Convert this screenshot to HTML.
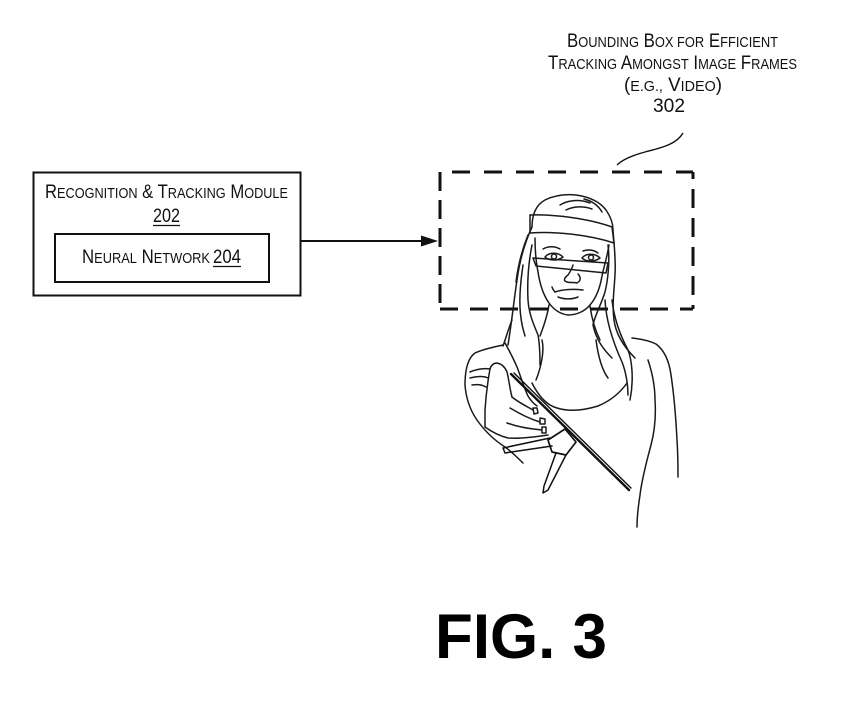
<!DOCTYPE html>
<html>
<head>
<meta charset="utf-8">
<style>
  html, body { margin:0; padding:0; background:#fff; }
  body { width:850px; height:706px; overflow:hidden; }
  svg { display:block; }
  text { font-family: "Liberation Sans", Arial, sans-serif; fill:#111; }
</style>
</head>
<body>
<svg width="850" height="706" viewBox="0 0 850 706" xmlns="http://www.w3.org/2000/svg">
  <!-- Module box -->
  <rect x="33.5" y="172.5" width="267" height="123" fill="none" stroke="#111" stroke-width="2"/>
  <text x="45" y="198" textLength="243" lengthAdjust="spacingAndGlyphs"><tspan font-size="19">R</tspan><tspan font-size="14.5">ECOGNITION</tspan><tspan font-size="19"> &amp; T</tspan><tspan font-size="14.5">RACKING</tspan><tspan font-size="19"> M</tspan><tspan font-size="14.5">ODULE</tspan></text>
  <text x="153" y="222" font-size="19" textLength="27" lengthAdjust="spacingAndGlyphs">202</text>
  <line x1="153" y1="225.5" x2="180" y2="225.5" stroke="#111" stroke-width="1.3"/>

  <rect x="55" y="234" width="214" height="48" fill="none" stroke="#111" stroke-width="2"/>
  <text x="82" y="263" textLength="128" lengthAdjust="spacingAndGlyphs"><tspan font-size="19">N</tspan><tspan font-size="14.5">EURAL</tspan><tspan font-size="19"> N</tspan><tspan font-size="14.5">ETWORK</tspan></text>
  <text x="213" y="263" font-size="19" textLength="28" lengthAdjust="spacingAndGlyphs">204</text>
  <line x1="213" y1="266.5" x2="241" y2="266.5" stroke="#111" stroke-width="1.3"/>

  <!-- Arrow -->
  <line x1="300" y1="241" x2="422" y2="241" stroke="#111" stroke-width="2"/>
  <polygon points="421,235.5 438,241 421,246.5" fill="#111"/>

  <!-- Dashed bounding box -->
  <g stroke="#111" stroke-width="3" fill="none">
    <path d="M452,172 H693" stroke-dasharray="18 14"/>
    <path d="M693,172 V309" stroke-dasharray="19 10" stroke-dashoffset="12"/>
    <path d="M440,172 V309" stroke-dasharray="19 9"/>
    <path d="M440,309 H693" stroke-dasharray="18 12"/>
  </g>

  <!-- Top label -->
  <text x="567" y="47" textLength="211" lengthAdjust="spacingAndGlyphs"><tspan font-size="19">B</tspan><tspan font-size="14.5">OUNDING</tspan><tspan font-size="19"> B</tspan><tspan font-size="14.5">OX FOR</tspan><tspan font-size="19"> E</tspan><tspan font-size="14.5">FFICIENT</tspan></text>
  <text x="548" y="69" textLength="249" lengthAdjust="spacingAndGlyphs"><tspan font-size="19">T</tspan><tspan font-size="14.5">RACKING</tspan><tspan font-size="19"> A</tspan><tspan font-size="14.5">MONGST</tspan><tspan font-size="19"> I</tspan><tspan font-size="14.5">MAGE</tspan><tspan font-size="19"> F</tspan><tspan font-size="14.5">RAMES</tspan></text>
  <text x="624" y="91" textLength="98" lengthAdjust="spacingAndGlyphs"><tspan font-size="19">(</tspan><tspan font-size="14.5">E.G.,</tspan><tspan font-size="19"> V</tspan><tspan font-size="14.5">IDEO</tspan><tspan font-size="19">)</tspan></text>
  <text x="653" y="112" font-size="19" textLength="32" lengthAdjust="spacingAndGlyphs">302</text>
  <path d="M683,133 C676,145 660,148 645,152 C630,156 622,160 617,165" fill="none" stroke="#111" stroke-width="1.4"/>

  <!-- Person drawing -->
  <g fill="none" stroke="#1a1a1a" stroke-width="1.5" stroke-linecap="round" stroke-linejoin="round">
    <!-- head top -->
    <path d="M532,227 C532,215 536,205 545,200 C555,195 566,194 576,195 C590,197 600,202 606,210 C611,217 613,224 613,230"/>
    <path d="M560,205 C568,200 580,199 590,203"/>
    <path d="M566,210 C574,206 584,206 592,209"/>
    <path d="M584,199 C592,201 598,205 602,212"/>
    <!-- headband -->
    <path d="M530,215 C555,214 590,219 612,227"/>
    <path d="M530,233 C555,231 590,235 614,243"/>
    <path d="M530,215 L530,233"/>
    <path d="M612,227 L614,243"/>
    <!-- face outline -->
    <path d="M535,238 C535,250 536,262 538,272 C540,285 544,296 549,303 C554,310 560,314 568,315 C577,315 585,311 590,305 C596,298 600,288 602,276 C604,266 607,258 609,245"/>
    <!-- glasses -->
    <path d="M533,258 L608,263 L606,273 L536,266 Z"/>
    <!-- eyebrows -->
    <path d="M543,249 C548,246 555,246 560,249"/>
    <path d="M583,251 C588,249 594,250 598,253"/>
    <!-- eyes -->
    <path d="M545,257 C549,252 558,252 563,257 C558,261 549,261 545,257 Z"/>
    <circle cx="554" cy="256.5" r="2.5"/>
    <path d="M582,258 C586,253 595,253 600,258 C595,262 586,262 582,258 Z"/>
    <circle cx="591" cy="257.5" r="2.5"/>
    <!-- nose -->
    <path d="M573,265 C572,269 570,272 568,275 C564,278 563,281 567,282 C570,283 574,282 577,283 C581,281 581,277 578,274"/>
    <!-- mouth -->
    <path d="M555,292 C563,289 575,289 583,290"/>
    <path d="M558,297 C566,300 573,299 578,297"/>
    <path d="M552,287 C553,290 554,291 555,292"/>
    <!-- hair left -->
    <path d="M532,227 C526,240 520,258 517,280 C514,300 512,320 508,345"/>
    <path d="M532,245 C529,260 527,280 528,300 C529,315 534,325 538,335 C540,345 540,355 540,365"/>
    <path d="M523,265 C520,285 519,305 521,318 C522,327 524,332 525,336"/>
    <path d="M528,235 C522,250 518,265 516,282"/>
    <path d="M512,320 C508,330 506,338 503,346"/>
    <!-- hair right -->
    <path d="M613,230 C614,245 616,258 615,275 C614,292 612,305 614,320 C616,335 625,348 635,358"/>
    <path d="M608,245 C610,260 608,280 605,292 C601,305 595,315 593,325 C596,340 604,350 612,358"/>
    <path d="M612,300 C614,318 620,335 628,350 C632,360 634,380 630,400"/>
    <path d="M605,300 C606,320 612,340 622,362 C626,372 628,385 628,395"/>
    <!-- neck -->
    <path d="M549,305 C547,318 543,328 540,336"/>
    <path d="M590,306 C592,320 595,330 600,340"/>
    <!-- left shoulder & arm -->
    <path d="M503,345 C494,347 483,349 475,353 C468,358 465,370 465,385 C466,398 470,410 477,420 C484,430 494,440 505,447 C512,452 518,458 523,463"/>
    <path d="M505,343 C510,352 514,360 517,367 C521,377 524,388 528,396 C531,401 534,404 537,406"/>
    <path d="M470,372 C477,369 484,368 490,369"/>
    <path d="M470,378 C478,376 484,376 488,378"/>
    <path d="M472,385 C478,384 483,385 486,387"/>
    <!-- hand -->
    <path d="M490,369 C491,365 494,363 497,363 C502,364 505,367 507,372 C509,380 510,390 512,397"/>
    <path d="M512,397 C518,402 526,406 533,410"/>
    <path d="M533,408 L537,408 L538,413 L534,414 Z"/>
    <path d="M510,408 C520,414 530,419 540,422"/>
    <path d="M540,418 L545,419 L545,424 L540,424 Z"/>
    <path d="M507,423 C518,427 530,429 542,430"/>
    <path d="M542,427 L546,427 L546,433 L542,433 Z"/>
    <path d="M485,427 C492,432 500,436 508,438 C520,439 535,437 548,435"/>
    <path d="M490,369 C488,380 486,395 485,410 C485,418 485,423 485,427"/>
    <!-- neckline -->
    <path d="M532,383 C538,395 546,405 557,408 C570,412 585,410 598,406 C610,401 620,393 627,383"/>
    <!-- right shoulder / body -->
    <path d="M632,338 C642,339 650,341 656,344 C664,350 669,360 671,375 C674,395 676,420 677,440 C678,455 678,468 678,477"/>
    <path d="M648,360 C652,372 655,385 655,400 C656,415 655,430 651,445 C647,460 642,478 640,495 C638,508 637,518 637,527"/>
    <path d="M542,340 C545,352 540,370 536,380"/>
    <path d="M596,340 C598,355 602,370 608,378"/>
  </g>
  <!-- drone -->
  <g stroke="#111" fill="none" stroke-linecap="round" stroke-linejoin="round">
    <path d="M511,374 L629,490" stroke-width="2.4"/>
    <path d="M514,373 L631,488" stroke-width="1.4"/>
    <path d="M548,440 L565,429 L576,442 L566,455 L552,452 Z" stroke-width="1.7" fill="#fff"/>
    <path d="M550,438 L503,448 L505,453 L552,446" stroke-width="1.5"/>
    <path d="M556,453 L544,486 L543,493 L548,490 L566,455" stroke-width="1.5"/>
  </g>

  <!-- FIG. 3 -->
  <text x="435" y="658" font-size="63" font-weight="bold" textLength="172" lengthAdjust="spacingAndGlyphs" style="fill:#000">FIG. 3</text>
</svg>
</body>
</html>
